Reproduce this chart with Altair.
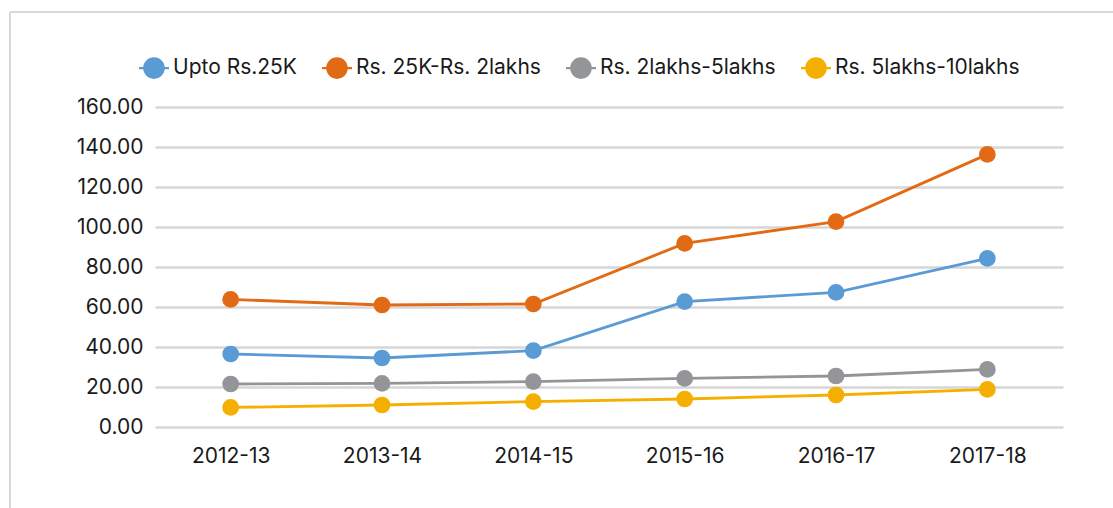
import altair as alt
import pandas as pd

years = ["2012-13", "2013-14", "2014-15", "2015-16", "2016-17", "2017-18"]
series = ["Upto Rs.25K", "Rs. 25K-Rs. 2lakhs", "Rs. 2lakhs-5lakhs", "Rs. 5lakhs-10lakhs"]
upto_25k = [36.5, 34.5, 38.2, 62.7, 67.3, 84.3]
r25k_2lakhs = [63.8, 61.0, 61.5, 91.8, 102.7, 136.3]
r2lakhs_5lakhs = [21.5, 21.8, 22.7, 24.3, 25.5, 28.8]
r5lakhs_10lakhs = [9.8, 11.0, 12.7, 14.0, 16.0, 18.8]
y_ticks = [0, 20, 40, 60, 80, 100, 120, 140, 160]
colors = ["#5B9BD5", "#E36A14", "#949599", "#F5AF00"]

rows = []
for name, vals in zip(series, [upto_25k, r25k_2lakhs, r2lakhs_5lakhs, r5lakhs_10lakhs]):
    for yr, v in zip(years, vals):
        rows.append({"Year": yr, "Series": name, "Value": v})
df = pd.DataFrame(rows)

FONT = "Inter"
FS = 21
legend = alt.Legend(title=None, orient="none", direction="horizontal",
                    legendX=-16, legendY=-54,
                    symbolType="M-1,-0.07H-0.68V0.07H-1Z M0.68,-0.07H1V0.07H0.68Z M0.72,0A0.72,0.72,0,1,1,-0.72,0A0.72,0.72,0,1,1,0.72,0Z",
                    symbolSize=900, symbolStrokeWidth=0, symbolOpacity=1,
                    labelFontSize=FS, labelFont=FONT,
                    labelColor="#1a1a1a", labelOffset=4,
                    columnPadding=25, labelLimit=300)
color = alt.Color("Series:N", sort=series,
                  scale=alt.Scale(domain=series, range=colors), legend=legend)

x = alt.X("Year:O", sort=years, title=None,
          scale=alt.Scale(padding=0.5),
          axis=alt.Axis(labelAngle=0, domain=False, ticks=False, grid=False,
                        labelPadding=18, labelFontSize=FS, labelFont=FONT,
                        labelColor="#1a1a1a"))
y = alt.Y("Value:Q", title=None,
          scale=alt.Scale(domain=[0, 160], nice=False),
          axis=alt.Axis(values=y_ticks, format=".2f", domain=False, ticks=False,
                        grid=True, gridColor="#D6D6D6", gridWidth=2.5,
                        labelPadding=12, labelFontSize=FS, labelFont=FONT,
                        labelColor="#1a1a1a"))

base = alt.Chart(df)
lines = base.mark_line(strokeWidth=2.8).encode(x=x, y=y, color=color)
points = base.mark_point(filled=True, size=280, opacity=1).encode(x=x, y=y, color=color)

frame_data = alt.Data(values=[{"a": 1}])
frame_left = alt.Chart(frame_data).mark_rule(color="#D9D9D9", strokeWidth=2).encode(
    x=alt.value(-145), y=alt.value(-95), y2=alt.value(420))
frame_top = alt.Chart(frame_data).mark_rule(color="#D9D9D9", strokeWidth=2).encode(
    x=alt.value(-145), x2=alt.value(1000), y=alt.value(-95))

chart = alt.layer(frame_left, frame_top, lines, points).properties(
    width=908, height=320,
    autosize=alt.AutoSizeParams(type="none"),
    padding={"left": 155, "top": 107, "right": 50, "bottom": 81},
    background="white",
).configure_view(stroke=None)

chart.save("out.html", embed_options={"renderer": "svg", "actions": False})
